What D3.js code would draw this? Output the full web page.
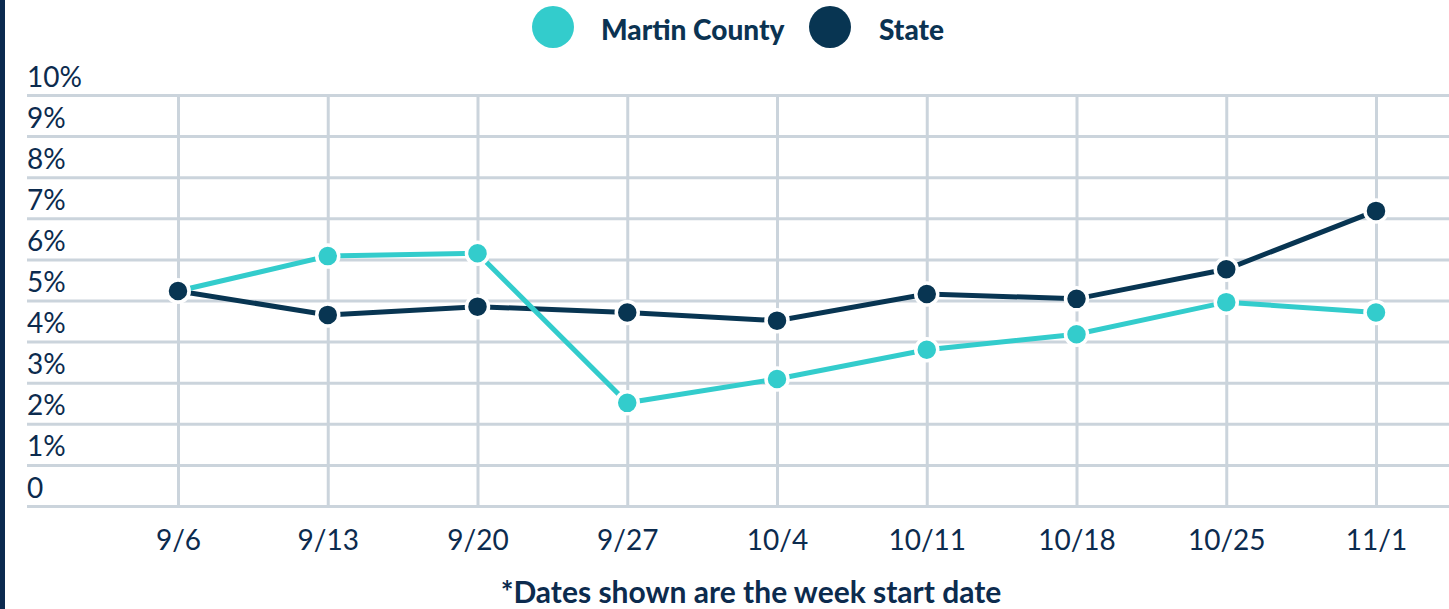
<!DOCTYPE html>
<html>
<head>
<meta charset="utf-8">
<script src="https://cdn.jsdelivr.net/npm/d3@7"></script>
<style>
  body { margin: 0; background: #fff; }
  svg { display: block; font-family: Lato, "Open Sans", sans-serif; }
</style>
</head>
<body>
<div id="chart"></div>
<script>
// week start dates
var weeks = ["9/6", "9/13", "9/20", "9/27", "10/4", "10/11", "10/18", "10/25", "11/1"];
// percent values
var martinValues = [5.23, 6.08, 6.15, 2.51, 3.09, 3.80, 4.18, 4.96, 4.71];
var stateValues = [5.23, 4.65, 4.85, 4.71, 4.51, 5.16, 5.04, 5.76, 7.18];
var yTicks = [0, 1, 2, 3, 4, 5, 6, 7, 8, 9, 10];
var yTickLabels = ["0", "1%", "2%", "3%", "4%", "5%", "6%", "7%", "8%", "9%", "10%"];
var seriesNames = ["Martin County", "State"];
var footnote = "*Dates shown are the week start date";

var width = 1449;
var height = 609;
var teal = "#33cccc";
var navy = "#083552";
var textColor = "#0c2b4e";
var gridColor = "#cbd4dc";
var font = "Lato, 'Open Sans', sans-serif";

var svg = d3.select("#chart").append("svg")
	.attr("width", width)
	.attr("height", height);

// dark bar down the left side
svg.append("rect")
	.attr("x", 0).attr("y", 0)
	.attr("width", 5).attr("height", height)
	.attr("fill", "#0b2a4f");

var plotLeft = 27;
var x = d3.scalePoint().domain(weeks).range([178, 1376]);
var y = d3.scaleLinear().domain([0, 10]).range([506, 95]);

// horizontal grid + y labels
var yAxis = svg.append("g")
	.attr("transform", "translate(" + plotLeft + ",0)")
	.call(d3.axisRight(y)
		.tickValues(yTicks)
		.tickSize(width - plotLeft)
		.tickFormat(function(d, i) { return yTickLabels[i]; }))
	.attr("font-family", font);
yAxis.select(".domain").remove();
yAxis.selectAll(".tick line")
	.attr("stroke", gridColor)
	.attr("stroke-width", 3);
yAxis.selectAll(".tick text")
	.attr("x", 0)
	.attr("dy", -9)
	.attr("text-anchor", "start")
	.attr("fill", textColor)
	.style("font-size", "28px");

// vertical grid + x labels
var xAxis = svg.append("g")
	.attr("transform", "translate(0," + y(0) + ")")
	.call(d3.axisBottom(x).tickSize(-(y(0) - y(10))).tickPadding(0))
	.attr("font-family", font);
xAxis.select(".domain").remove();
xAxis.selectAll(".tick line")
	.attr("stroke", gridColor)
	.attr("stroke-width", 3);
xAxis.selectAll(".tick text")
	.attr("y", 44)
	.attr("dy", 0)
	.attr("fill", textColor)
	.style("font-size", "28px");

var line = d3.line()
	.x(function(d, i) { return x(weeks[i]); })
	.y(function(d) { return y(d); });

var series = [
	{ name: seriesNames[1], values: stateValues, color: navy },
	{ name: seriesNames[0], values: martinValues, color: teal }
];

series.forEach(function(s) {
	svg.append("path")
		.datum(s.values)
		.attr("fill", "none")
		.attr("stroke", s.color)
		.attr("stroke-width", 5)
		.attr("d", line);
});

// markers, state on top
[series[1], series[0]].forEach(function(s) {
	svg.append("g").selectAll("circle")
		.data(s.values)
		.enter()
		.append("circle")
			.attr("cx", function(d, i) { return x(weeks[i]); })
			.attr("cy", function(d) { return y(d); })
			.attr("r", 11)
			.attr("fill", s.color)
			.attr("stroke", "#fff")
			.attr("stroke-width", 3.5);
});

// legend
var legend = svg.append("g");
var legendItems = [
	{ name: seriesNames[0], color: teal, cx: 553, tx: 601 },
	{ name: seriesNames[1], color: navy, cx: 830, tx: 879 }
];
legendItems.forEach(function(l) {
	legend.append("circle")
		.attr("cx", l.cx).attr("cy", 27)
		.attr("r", 21)
		.attr("fill", l.color);
	legend.append("text")
		.attr("x", l.tx).attr("y", 40)
		.attr("fill", "#0b3352")
		.style("font-size", "28px")
		.style("font-weight", "900")
		.text(l.name);
});

// footnote
svg.append("text")
	.attr("x", 751).attr("y", 603)
	.attr("text-anchor", "middle")
	.attr("fill", textColor)
	.style("font-size", "30px")
	.style("font-weight", "bold")
	.text(footnote);
</script>
</body>
</html>
